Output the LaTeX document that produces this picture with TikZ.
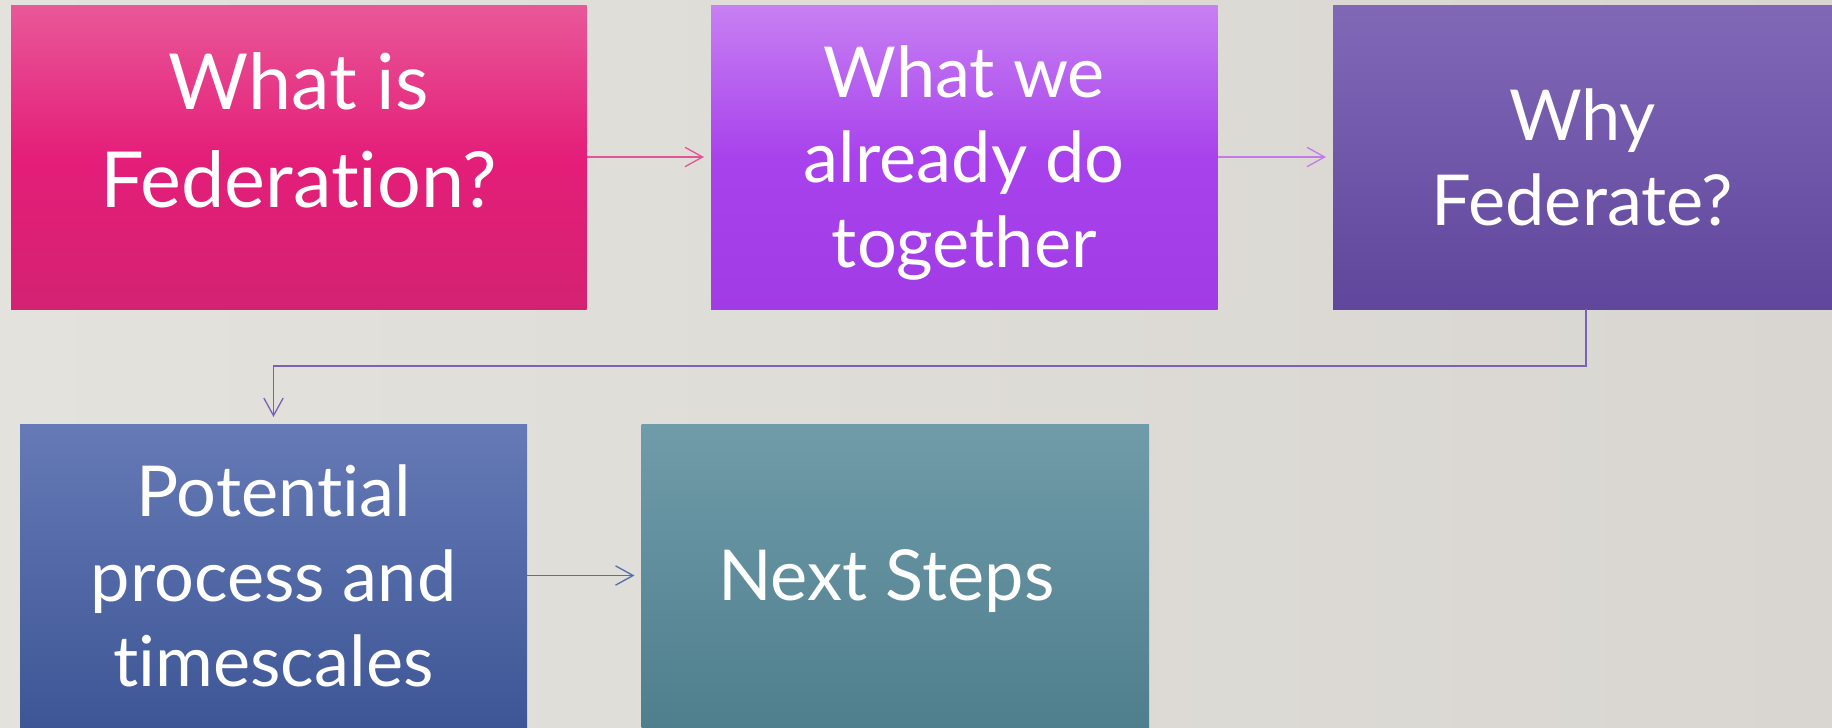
\documentclass[tikz,border=0pt]{standalone}
\usepackage{fontspec}
\setsansfont{Lato}[Ligatures={NoCommon, NoContextual}]
\usepackage{xcolor}
\usetikzlibrary{arrows.meta, positioning}

\definecolor{bg_left}{RGB}{227,226,221}
\definecolor{bg_right}{RGB}{217,214,209}
\definecolor{pink_top}{RGB}{233,88,152}
\definecolor{pink_mid}{RGB}{228,30,121}
\definecolor{pink_bot}{RGB}{212,34,114}
\definecolor{violet_top}{RGB}{199,128,243}
\definecolor{violet_mid}{RGB}{168,66,236}
\definecolor{violet_bot}{RGB}{160,59,230}
\definecolor{purple_top}{RGB}{129,104,183}
\definecolor{purple_bot}{RGB}{96,70,156}
\definecolor{blue_top}{RGB}{101,122,182}
\definecolor{blue_bot}{RGB}{62,86,150}
\definecolor{teal_top}{RGB}{112,156,169}
\definecolor{teal_bot}{RGB}{79,126,141}

\begin{document}
\begin{tikzpicture}[
    font=\sffamily,
    % styles
    topic/.style={
        inner sep=0pt, outer sep=0pt, align=center, text=white, text depth=0pt,
        minimum height=6.08cm, font=\sffamily\fontsize{40}{48.4}\selectfont
    },
    flow/.style={
        -{Straight Barb[length=10pt, width=11pt]}, line width=0.75pt, shorten >=4pt
    }
]

    % --- BACKGROUND ---
    \fill[left color=bg_left, right color=bg_right] (0,0) rectangle (36.64,-14.54);

    % --- TOP ROW ---
    \node[topic, minimum width=11.51cm, top color=pink_top, bottom color=pink_bot, middle color=pink_mid,
          font=\sffamily\fontsize{44}{55.6}\selectfont, text depth=1.08cm] (what_is) at (5.975,-3.14) {
        What is\\
        Federation?
    };

    \node[topic, right=2.49cm of what_is, minimum width=10.13cm,
          top color=violet_top, bottom color=violet_bot, middle color=violet_mid] (already) {
        What we\\
        already do\\
        together
    };

    \node[topic, right=2.31cm of already, minimum width=9.98cm,
          top color=purple_top, bottom color=purple_bot] (why) {
        Why\\
        Federate?
    };

    % --- BOTTOM ROW ---
    \node[topic, minimum width=10.14cm, minimum height=6.06cm,
          top color=blue_top, bottom color=blue_bot] (potential) at (5.47,-11.51) {
        Potential\\
        process and\\
        timescales
    };

    \node[topic, right=2.29cm of potential, minimum width=10.15cm, minimum height=6.06cm,
          top color=teal_top, bottom color=teal_bot] (next_steps) {
        Next Steps
    };

    % --- CONNECTORS ---
    \draw[flow, color={rgb,255:red,226;green,84;blue,152}] (what_is.east) -- (already.west);
    \draw[flow, color={rgb,255:red,197;green,122;blue,234}] (already.east) -- (why.west);
    \draw[flow, color={rgb,255:red,122;green,98;blue,184}] ([xshift=0.07cm]why.south) -- ++(0,-1.14) -| (potential.north);
    \draw[flow, color={rgb,255:red,86;green,110;blue,175}] (potential.east) -- (next_steps.west);

\end{tikzpicture}
\end{document}
